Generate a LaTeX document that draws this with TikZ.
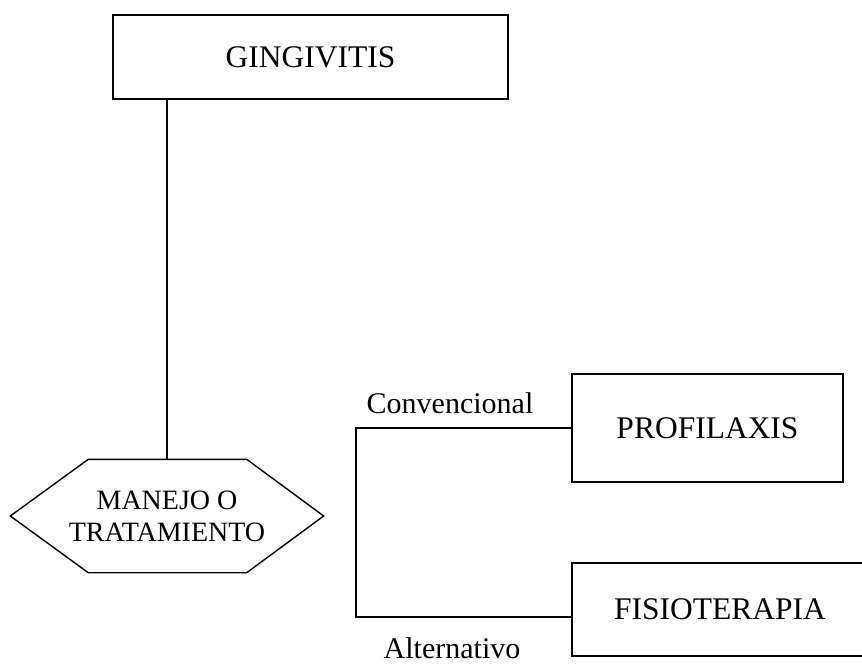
\documentclass[tikz,border=0pt]{standalone}
\usepackage{fontspec}
\setmainfont{Liberation Serif}
\usetikzlibrary{calc}
\begin{document}
\begin{tikzpicture}[x=1pt,y=-1pt,
  line width=1.4pt,
  box/.style={draw, rectangle, inner sep=0pt, font=\fontsize{31.5}{36}\selectfont},
  hextext/.style={align=center, inner sep=0pt, font=\fontsize{28}{32}\selectfont},
  lbl/.style={inner sep=0pt, font=\fontsize{30}{34}\selectfont}]
  \useasboundingbox (0,0) rectangle (862,664);

  % main boxes
  \node[box, minimum width=395pt, minimum height=84pt] (ging) at (310.5,57) {GINGIVITIS};
  \node[box, minimum width=271pt, minimum height=108pt] (prof) at (707.5,428) {PROFILAXIS};
  \node[box, minimum width=296pt, minimum height=93pt] (fisio) at (720,609.5) {FISIOTERAPIA};

  % hexagon with its text
  \node[minimum width=312pt, minimum height=112pt, inner sep=0pt] (hex) at (167,516) {};
  \node[hextext] (hexlabel) at (hex.center) {MANEJO O\\TRATAMIENTO};
  \draw (hex.west) -- ($(hex.north west)+(78,0)$) -- ($(hex.north east)+(-77,0)$)
        -- (hex.east) -- ($(hex.south east)+(-77,0)$) -- ($(hex.south west)+(78,0)$) -- cycle;

  % trunk from the top box down to the hexagon
  \draw (hex.north) -- (hex.north |- ging.south);

  % bracket joining the two treatments
  \coordinate (bk) at (356,617);
  \draw (prof.west) -| (bk) -- (bk -| fisio.west);

  % branch labels
  \node[lbl, anchor=base west] (conv) at (366,413) {Convencional};
  \node[lbl, anchor=base west] (alt) at (383,658) {Alternativo};
\end{tikzpicture}
\end{document}
